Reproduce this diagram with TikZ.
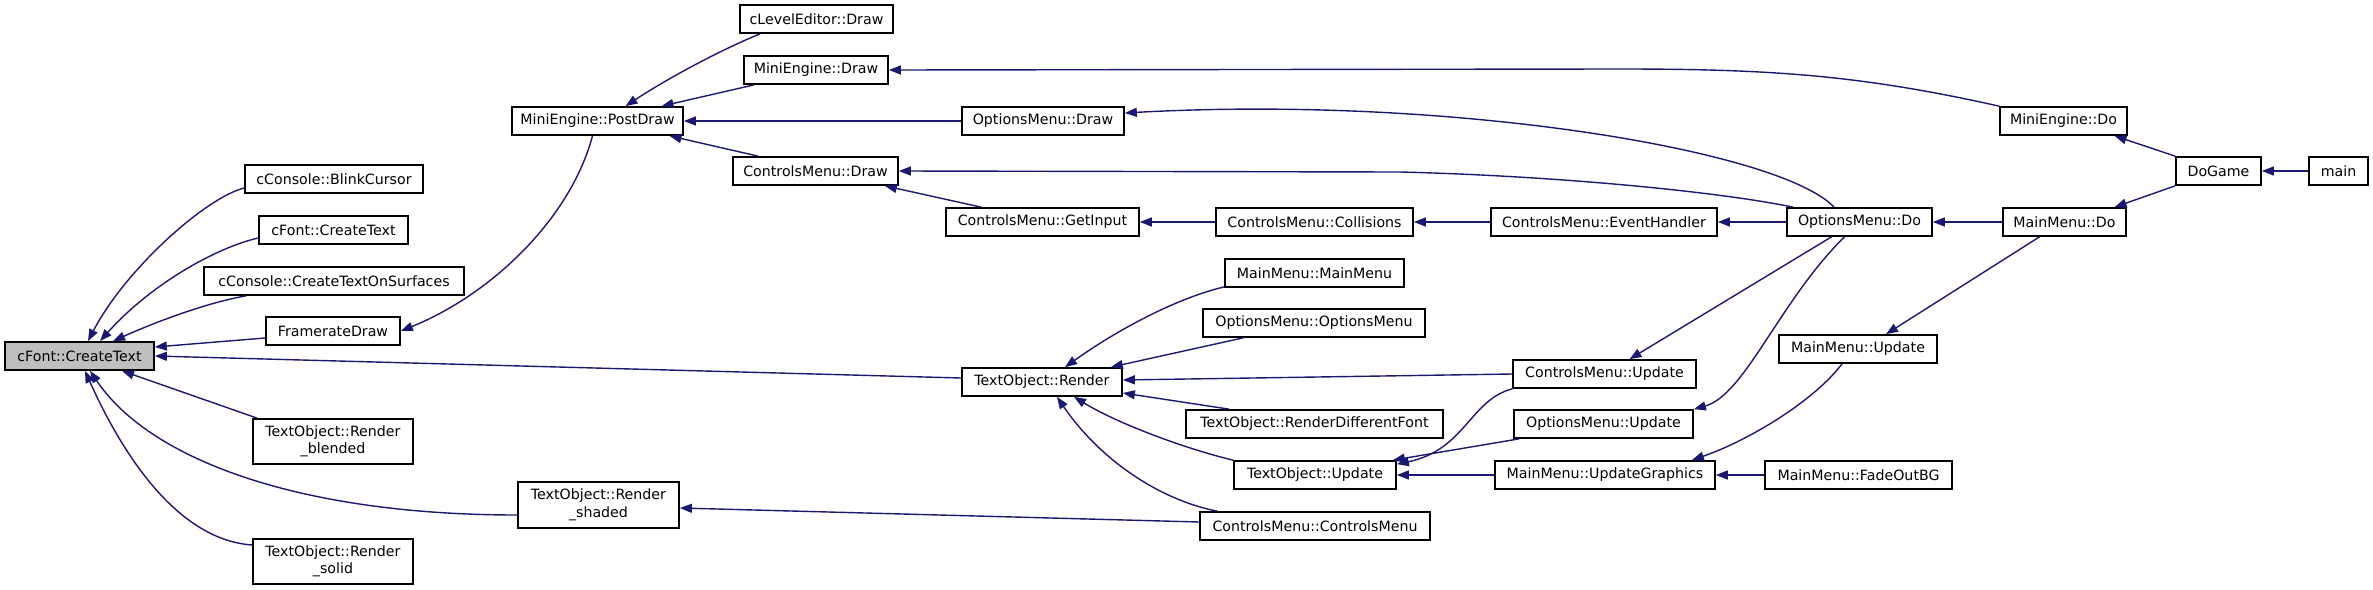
\documentclass[tikz,border=0pt]{standalone}
\usepackage{fontspec}
\setmainfont{DejaVu Sans}
\usetikzlibrary{arrows.meta,calc}
\definecolor{edgeblue}{HTML}{191970}
\definecolor{hlgray}{HTML}{BFBFBF}
\tikzset{
  box/.style={draw=black, line width=1.7pt, fill=white, rectangle, inner sep=0pt,
    minimum height=28pt, font=\fontsize{14.2}{17.5}\selectfont, align=center},
  mainbox/.style={box, fill=hlgray},
  edge/.style={draw=edgeblue, line width=1.4pt, {Triangle[length=12pt,width=9pt]}-}
}
\begin{document}
\begin{tikzpicture}[x=1pt,y=-1pt]
\useasboundingbox (0,0) rectangle (2373,589);
% nodes
\node[mainbox, minimum width=149pt] (ct) at (79.5,356) {cFont::CreateText};
\node[box, minimum width=178pt] (bc) at (334,179) {cConsole::BlinkCursor};
\node[box, minimum width=149pt] (ct2) at (333.5,230) {cFont::CreateText};
\node[box, minimum width=260pt] (ctos) at (334,281) {cConsole::CreateTextOnSurfaces};
\node[box, minimum width=134pt] (fd) at (333,331) {FramerateDraw};
\node[box, minimum width=160pt, minimum height=45pt] (rb) at (333,441.5) {TextObject::Render\\\_blended};
\node[box, minimum width=161pt, minimum height=46pt] (rsh) at (598.5,505) {TextObject::Render\\\_shaded};
\node[box, minimum width=160pt, minimum height=45pt] (rso) at (333,561.5) {TextObject::Render\\\_solid};
\node[box, minimum width=171pt] (pd) at (597.5,121) {MiniEngine::PostDraw};
\node[box, minimum width=153pt] (led) at (816.5,19) {cLevelEditor::Draw};
\node[box, minimum width=144pt] (med) at (816,70) {MiniEngine::Draw};
\node[box, minimum width=165pt] (cmd) at (815.5,171) {ControlsMenu::Draw};
\node[box, minimum width=162pt] (omd) at (1043,121) {OptionsMenu::Draw};
\node[box, minimum width=193pt] (gi) at (1042.5,222) {ControlsMenu::GetInput};
\node[box, minimum width=160pt] (tor) at (1042,382) {TextObject::Render};
\node[box, minimum width=197pt] (col) at (1314.5,222) {ControlsMenu::Collisions};
\node[box, minimum width=179pt] (mmm) at (1314.5,273) {MainMenu::MainMenu};
\node[box, minimum width=222pt] (omom) at (1314,323) {OptionsMenu::OptionsMenu};
\node[box, minimum width=257pt] (rdf) at (1314.5,424) {TextObject::RenderDifferentFont};
\node[box, minimum width=162pt] (tou) at (1315,475) {TextObject::Update};
\node[box, minimum width=230pt] (cmcm) at (1315,526) {ControlsMenu::ControlsMenu};
\node[box, minimum width=226pt] (eh) at (1604,222) {ControlsMenu::EventHandler};
\node[box, minimum width=183pt] (cmu) at (1604.5,374) {ControlsMenu::Update};
\node[box, minimum width=179pt] (omu) at (1603.5,424) {OptionsMenu::Update};
\node[box, minimum width=220pt] (mmug) at (1605,475) {MainMenu::UpdateGraphics};
\node[box, minimum width=145pt] (omdo) at (1859.5,222) {OptionsMenu::Do};
\node[box, minimum width=158pt] (mmu) at (1858,349) {MainMenu::Update};
\node[box, minimum width=187pt] (fob) at (1858.5,475) {MainMenu::FadeOutBG};
\node[box, minimum width=127pt] (mdo) at (2063.5,121) {MiniEngine::Do};
\node[box, minimum width=123pt] (mmdo) at (2064.5,222) {MainMenu::Do};
\node[box, minimum width=85pt] (dg) at (2218.5,171) {DoGame};
\node[box, minimum width=59pt] (mn) at (2338.5,171) {main};
% edges into cFont::CreateText
\draw[edge] ($(ct.north)+(8.5,0)$) .. controls (125,270) and (205,198) .. ($(bc.west)+(0,9)$);
\draw[edge] ($(ct.north)+(20.5,0)$) .. controls (150,285) and (215,248) .. ($(ct2.west)+(0,8)$);
\draw[edge] ($(ct.north)+(33.5,0)$) .. controls (160,320) and (210,302) .. ($(ctos.south west)+(43,0)$);
\draw[edge] ($(ct.east)+(0,-9)$) -- ($(fd.west)+(0,7)$);
\draw[edge] (ct.east) -- ($(tor.west)+(0,-4)$);
\draw[edge] ($(ct.south)+(42.5,0)$) -- ($(rb.north west)+(5,0)$);
\draw[edge] ($(ct.south)+(10.5,0)$) .. controls (150,460) and (300,515) .. ($(rsh.west)+(0,10)$);
\draw[edge] ($(ct.south)+(5.5,0)$) .. controls (125,460) and (180,540) .. ($(rso.west)+(0,-16.5)$);
% MiniEngine::PostDraw
\draw[edge] (fd.east) .. controls (490,295) and (570,220) .. ($(pd.south)+(-5,0)$);
\draw[edge] ($(pd.north)+(28,0)$) .. controls (665,80) and (720,50) .. ($(led.south west)+(21,0)$);
\draw[edge] ($(pd.north)+(64,0)$) -- ($(med.south west)+(11,0)$);
\draw[edge] (pd.east) -- (omd.west);
\draw[edge] ($(pd.south)+(72,0)$) -- ($(cmd.north west)+(26,0)$);
\draw[edge] ($(cmd.south east)+(-14,0)$) -- ($(gi.north west)+(36,0)$);
\draw[edge] (gi.east) -- (col.west);
\draw[edge] (col.east) -- (eh.west);
\draw[edge] (eh.east) -- (omdo.west);
\draw[edge] (omdo.east) -- (mmdo.west);
\draw[edge] ($(mmdo.north)+(50,0)$) -- (dg.south west);
\draw[edge] ($(mdo.south)+(51,0)$) -- (dg.north west);
\draw[edge] (dg.east) -- (mn.west);
% long upper edges
\draw[edge] (med.east) -- (1620,69) .. controls (1770,69) and (1860,75) .. (mdo.north west);
\draw[edge] ($(omd.east)+(0,-8)$) .. controls (1450,95) and (1780,150) .. ($(omdo.north)+(-25.5,0)$);
\draw[edge] (cmd.east) -- (1400,172) .. controls (1560,176) and (1720,192) .. ($(omdo.north west)+(7,0)$);
% OptionsMenu::Do / MainMenu::Do downward
\draw[edge] ($(cmu.north)+(25,0)$) -- ($(omdo.south)+(-28,0)$);
\draw[edge] (omu.north east) .. controls (1745,395) and (1780,300) .. ($(omdo.south)+(-15,0)$);
\draw[edge] ($(mmu.north)+(28,0)$) -- ($(mmdo.south)+(-25,0)$);
\draw[edge] ($(mmug.north east)+(-24,0)$) .. controls (1750,440) and (1815,400) .. ($(mmu.south)+(-16,0)$);
\draw[edge] (mmug.east) -- (fob.west);
\draw[edge] (tou.east) -- (mmug.west);
\draw[edge] ($(tou.north east)+(0,4)$) .. controls (1465,450) and (1470,400) .. (cmu.south west);
\draw[edge] ($(tou.north east)+(-4,0)$) -- ($(omu.south west)+(6,0)$);
% TextObject::Render
\draw[edge] ($(tor.north)+(23,0)$) .. controls (1110,335) and (1170,300) .. ($(mmm.south west)+(0,-1)$);
\draw[edge] ($(tor.north east)+(-12,0)$) -- ($(omom.south west)+(41,0)$);
\draw[edge] ($(tor.east)+(0,-2)$) -- (cmu.west);
\draw[edge] ($(tor.east)+(0,11)$) -- ($(rdf.north west)+(44,0)$);
\draw[edge] ($(tor.south)+(32,0)$) .. controls (1120,425) and (1190,450) .. (tou.north west);
\draw[edge] ($(tor.south)+(15,0)$) .. controls (1100,460) and (1160,500) .. ($(cmcm.north west)+(18,0)$);
\draw[edge] ($(rsh.east)+(0,3)$) -- ($(cmcm.west)+(0,-4)$);
\end{tikzpicture}
\end{document}
